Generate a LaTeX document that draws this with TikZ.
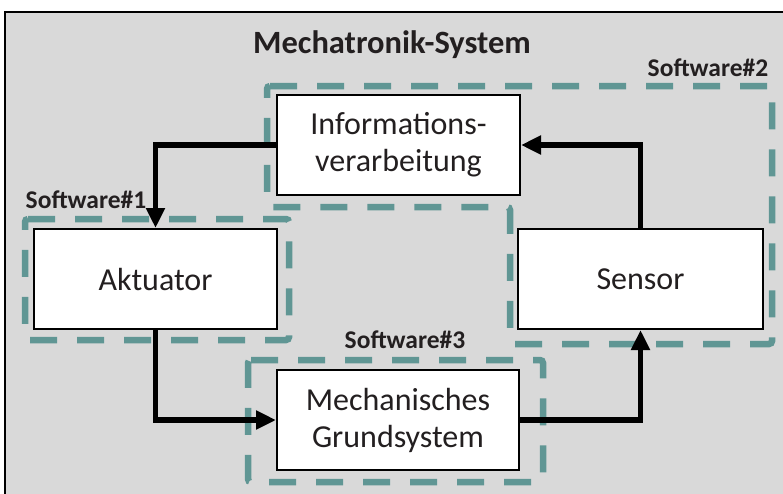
\documentclass[tikz,border=0pt]{standalone}
\usepackage{fontspec}
\setmainfont{Carlito}
\usetikzlibrary{arrows.meta}
\definecolor{bg}{RGB}{217,217,217}
\definecolor{tealdash}{RGB}{96,150,148}
\definecolor{txt}{RGB}{35,31,32}
\begin{document}
\begin{tikzpicture}[x=1pt,y=-1pt,
 blk/.style={draw=black, line width=2pt, fill=white, inner sep=0pt, align=center, font=\fontsize{32}{37}\selectfont, text=txt},
 sw/.style={draw=tealdash, line width=6.5pt, dash pattern=on 27pt off 20pt, rounded corners=3pt},
 lbl/.style={font=\bfseries\fontsize{25.5}{30}\selectfont, text=txt, inner sep=0pt, anchor=base},
 arr/.style={line width=5.5pt, -{Triangle[length=20pt,width=18pt]}}]
\useasboundingbox (0,0) rectangle (783,493);
\fill[white] (0,0) rectangle (783,493);
\begin{scope}
\clip (0,0) rectangle (783,493);
\draw[fill=bg, line width=2pt, draw=black] (5,12) rectangle (800,510);
\end{scope}
% dashed software regions
\draw[sw] (267,86) -- (772,86) -- (772,344) -- (510,344) -- (510,207) -- (267,207) -- cycle;
\draw[sw] (25,219) -- (289,219) -- (289,340) -- (25,340) -- cycle;
\draw[sw] (248,360) -- (543,360) -- (543,482) -- (248,482) -- cycle;
% labels
\node[font=\bfseries\fontsize{32.5}{36}\selectfont, text=txt, inner sep=0pt, anchor=base] (title) at (392,53) {Mechatronik-System};
\node[lbl] (sw1) at (86,208) {Software\#1};
\node[lbl] (sw2) at (708,76) {Software\#2};
\node[lbl] (sw3) at (405,348) {Software\#3};
% blocks
\node[blk, minimum width=243pt, minimum height=100pt] (info) at (398.5,145) {Informations-\\verarbeitung};
\node[blk, minimum width=243pt, minimum height=100pt] (akt) at (155.5,279) {Aktuator};
\node[blk, minimum width=245pt, minimum height=100pt] (sens) at (640.5,279) {Sensor};
\node[blk, minimum width=242pt, minimum height=100pt] (mech) at (398,420) {Mechanisches\\Grundsystem};
% arrows
\draw[arr] (info.west) -| (akt.north);
\draw[arr] (akt.south) |- (mech.west);
\draw[arr] (mech.east) -| (sens.south);
\draw[arr] (sens.north) |- (info.east);
\end{tikzpicture}
\end{document}
